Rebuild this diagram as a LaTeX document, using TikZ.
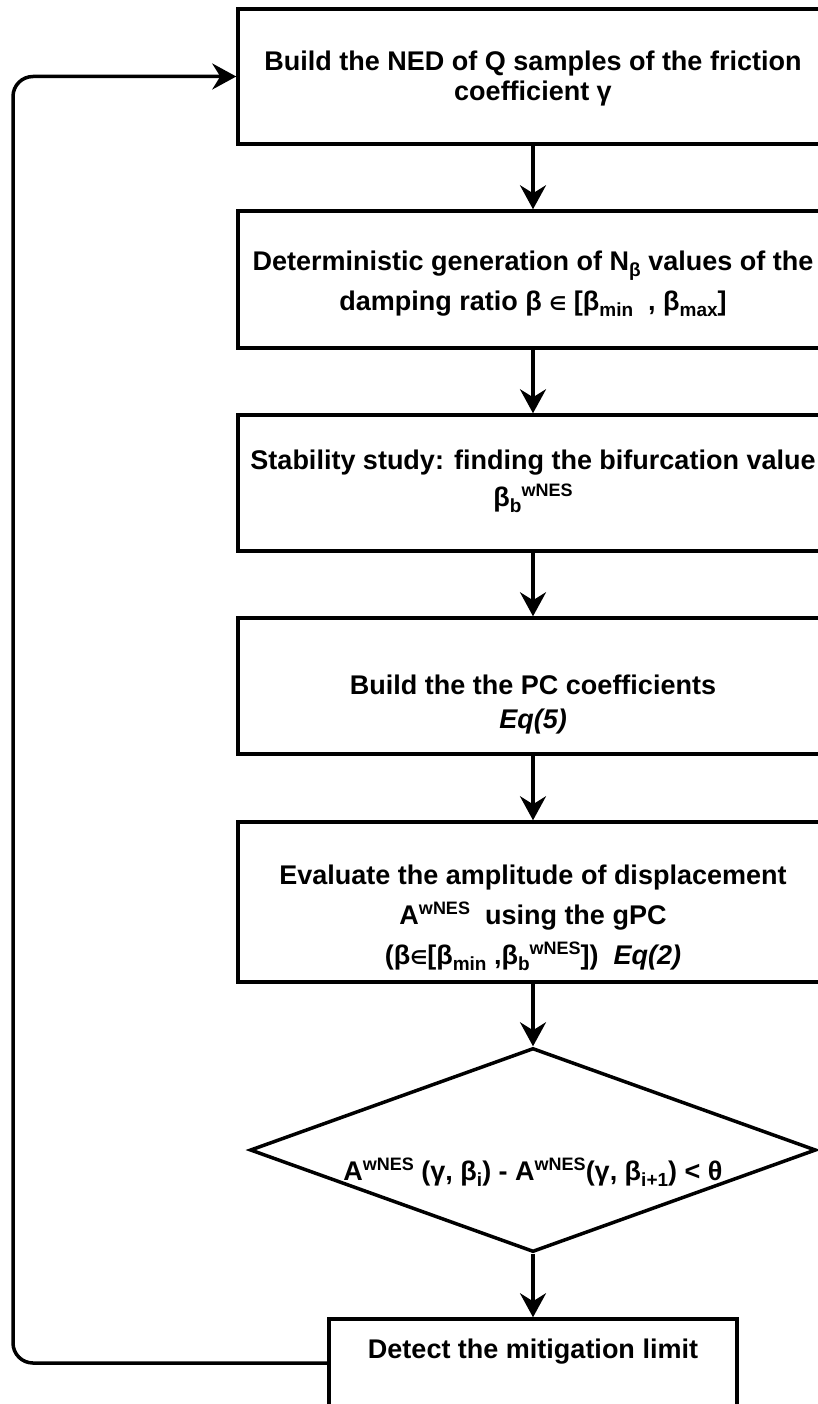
\documentclass[tikz,border=0pt]{standalone}
\usepackage{fontspec}
\setmainfont{Liberation Sans}
\newfontfamily\symfont{DejaVu Sans}
\usetikzlibrary{shapes,positioning,arrows.meta}

\newcommand{\supT}[1]{\raisebox{10pt}{\fontsize{18}{18}\selectfont #1}}
\newcommand{\subT}[1]{\raisebox{-6pt}{\fontsize{19}{19}\selectfont #1}}
\newcommand{\elemT}{{\symfont\fontsize{19}{19}\selectfont ∈}}

\begin{document}
\begin{tikzpicture}
  [x=1pt,y=-1pt,
   stepN/.style={rectangle,draw,line width=3.5pt,minimum width=590pt,inner sep=0pt},
   decN/.style={diamond,draw,line width=3.5pt,minimum width=566pt,minimum height=204pt,inner sep=0pt},
   txtN/.style={align=center,inner sep=0pt,font=\fontsize{27}{30}\selectfont\bfseries},
   flowE/.style={-{Stealth[length=24pt,width=26pt,inset=8pt]},line width=3.5pt}]

  \useasboundingbox (0,0) rectangle (818,1404);
  \clip (0,0) rectangle (818,1404);

  % the steps
  \node[stepN,minimum height=135pt] (b1) at (533,76.5) {};
  \node[stepN,minimum height=137pt] (b2) at (533,279.5) {};
  \node[stepN,minimum height=136pt] (b3) at (533,483) {};
  \node[stepN,minimum height=136pt] (b4) at (533,686) {};
  \node[stepN,minimum height=160pt] (b5) at (533,902) {};
  \node[decN] (dec) at (533,1150) {};
  \node[stepN,minimum width=408pt,minimum height=135pt] (b6) at (533,1386.5) {};

  % their texts
  \node[txtN] (t1) at (533,79) {Build the NED of Q samples of the friction\\coefficient γ};
  \node[txtN] (t2) at (533,284) {Deterministic generation of N\subT{β} values of the\\[10pt]
    damping ratio β \elemT{} [β\subT{min}~~, β\subT{max}]};
  \node[txtN] (t3) at (533,481) {Stability study: finding the bifurcation value\\[7pt]
    β\subT{b}\supT{wNES}};
  \node[txtN] (t4) at (533,705) {Build the the PC coefficients\\[4pt]\textit{Eq(5)}};
  \node[txtN] (t5) at (533,918) {Evaluate the amplitude of displacement\\[10pt]
    A\supT{wNES}~~using the gPC\\[10pt]
    (β\elemT[β\subT{min} ,β\subT{b}\supT{wNES}])~~\textit{Eq(2)}};
  \node[txtN] (tdec) at (533,1172) {A\supT{wNES} (γ, β\subT{i}) - A\supT{wNES}(γ, β\subT{i+1}) < θ};
  \node[txtN] (t6) at (533,1352) {Detect the mitigation limit};

  % flow
  \draw[flowE] (b1) -- (b2);
  \draw[flowE] (b2) -- (b3);
  \draw[flowE] (b3) -- (b4);
  \draw[flowE] (b4) -- (b5);
  \draw[flowE] (b5) -- (dec);
  \draw[flowE] (dec) -- (b6);

  % back to the start
  \coordinate (loopS) at (b6.west |- 0,1363);
  \coordinate (loopL) at (13,0);
  \draw[flowE,rounded corners=20pt] (loopS) -- (loopS -| loopL) -- (loopL |- b1.west) -- (b1.west);
\end{tikzpicture}
\end{document}
